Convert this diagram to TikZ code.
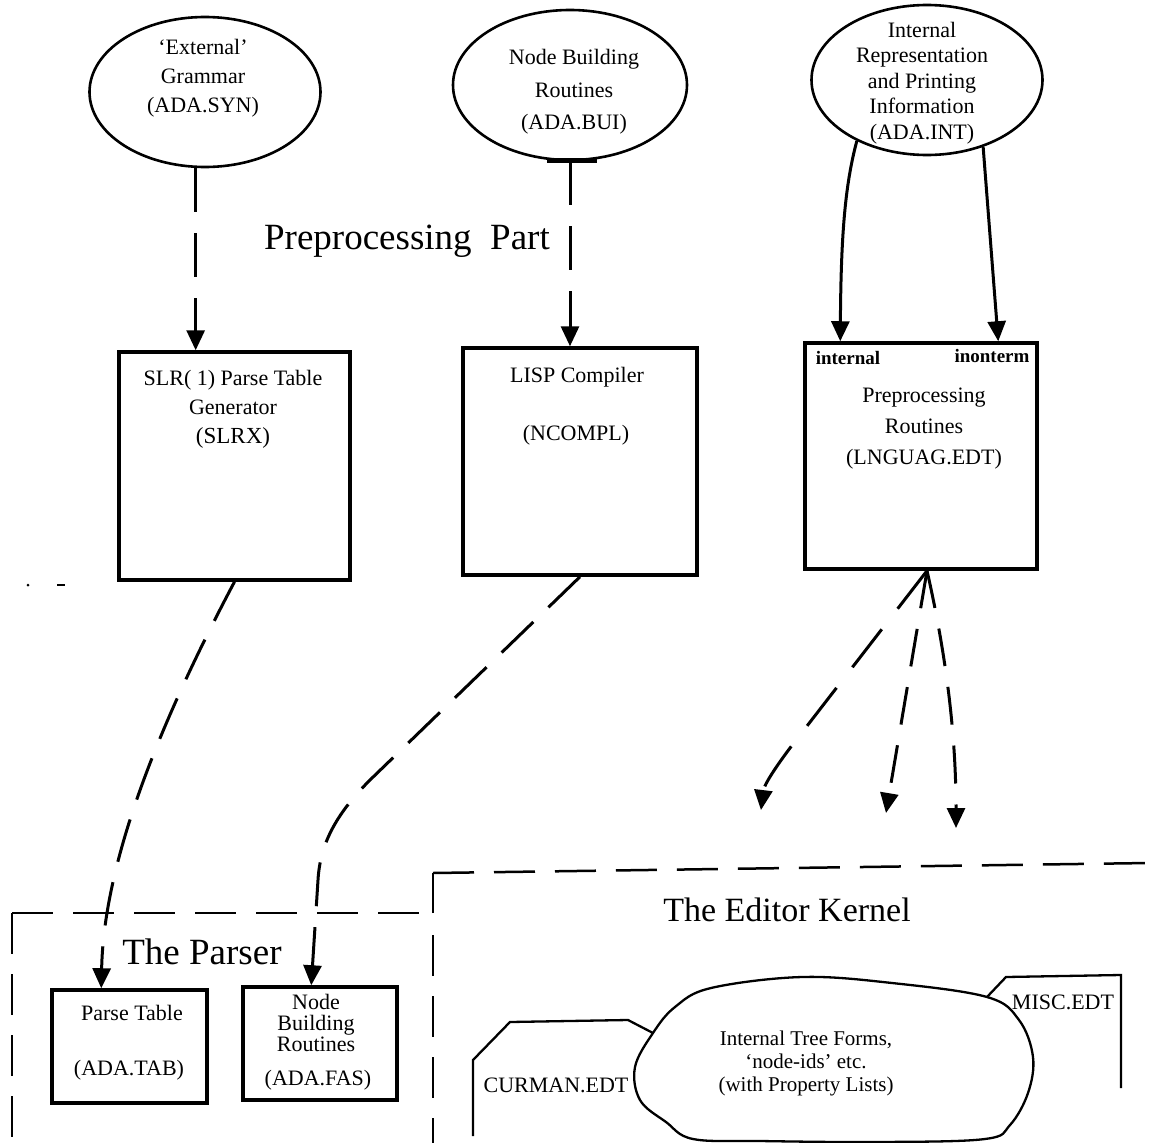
\documentclass[tikz,border=0pt]{standalone}
\usepackage{fontspec}
\setmainfont{Liberation Serif}
\usetikzlibrary{arrows.meta,shapes.geometric,calc}
\begin{document}
\begin{tikzpicture}[x=1pt,y=-1pt,
  ell/.style={draw, ellipse, line width=2.6pt, inner sep=0pt},
  box/.style={draw, rectangle, line width=3.5pt, inner sep=0pt},
  lbl/.style={font=\fontsize{22}{29}\selectfont, align=center, inner sep=0pt},
  big/.style={font=\fontsize{37}{44}\selectfont, inner sep=0pt},
  tag/.style={inner sep=0pt, font=\bfseries\fontsize{19}{19}\selectfont},
  conn/.style={line width=3pt},
  dconn/.style={line width=3pt, dash pattern=on 44pt off 21pt},
  tip/.style={-{Triangle[length=20pt,width=18pt]}},
  region/.style={line width=2.5pt, dash pattern=on 41pt off 20pt},
  outline/.style={line width=2.3pt}
]
\useasboundingbox (0,0) rectangle (1149,1143);
\fill[white] (0,0) rectangle (1149,1143);

% --- ellipses (input files)
\node[ell, minimum width=231, minimum height=150] (e1) at (205,92) {};
\node[lbl] (e1t) at (203,78) {`External'\\Grammar\\(ADA.SYN)};
\node[ell, minimum width=234, minimum height=150] (e2) at (570,85) {};
\node[lbl, font=\fontsize{22}{32.5}\selectfont] (e2t) at (574,92) {Node Building\\Routines\\(ADA.BUI)};
\draw[line width=5pt] (547,160) -- (597,160);
\node[ell, minimum width=231, minimum height=150] (e3) at (927,80) {};
\node[lbl, font=\fontsize{22}{25.5}\selectfont] (e3t) at (922,83) {Internal\\Representation\\and Printing\\Information\\(ADA.INT)};

\node[big] (pp) at (407,241) {Preprocessing\hspace{0.5em}Part};

% --- preprocessing boxes
\node[box, minimum width=231, minimum height=228] (b1) at (234.5,466) {};
\node[lbl] (b1t) at (233,409) {SLR( 1) Parse Table\\Generator\\{\fontsize{23}{29}\selectfont(SLRX)}};
\node[box, minimum width=234, minimum height=227] (b2) at (580,461.5) {};
\node[lbl] (b2a) at (577,377) {LISP Compiler};
\node[lbl] (b2b) at (576,435) {(NCOMPL)};
\node[box, minimum width=232, minimum height=226] (b3) at (921,456) {};
\node[lbl, font=\fontsize{22}{31}\selectfont] (b3t) at (924,429) {Preprocessing\\Routines\\(LNGUAG.EDT)};
\node[tag] (b3i) at (848,358) {internal};
\node[tag] (b3n) at (992,356) {inonterm};

% --- connectors from inputs to boxes
\draw[dconn, tip] (e1.-97) -- (e1.-97 |- b1.north);
\draw[dconn, tip] (e2.south) -- (e2.south |- b2.north);
\draw[conn, tip] (e3.221) .. controls (845,185) and (841,235) .. ($(b3.north west)+(37,0)$);
\draw[conn, tip] (e3.-50) -- ($(b3.north west)+(195,0)$);

% --- three open arrows from the preprocessing routines
\coordinate (b3o) at ($(b3.south)+(6,0)$);
\coordinate (fL) at (761,810);
\coordinate (fM) at (886,813);
\coordinate (fR) at (956,828);
\draw[dconn, dash pattern=on 48pt off 26pt, tip] (b3o) -- (790,748) .. controls (775,768) and (764,785) .. (fL);
\draw[dconn, dash pattern=on 38pt off 21pt, tip] (b3o) -- (fM);
\draw[dconn, dash pattern=on 38pt off 21pt, tip] (b3o) .. controls (945,650) and (956,730) .. (fR);

% --- stray marks
\fill (28,585) circle (1.5pt);
\draw[line width=2pt] (57,585) -- (65,585);

% --- region boundaries
\draw[region] (12,913) -- (433,913);
\draw[region] (12,913) -- (12,1143);
\draw[line width=2.5pt] (433,913) -- (433,873);
\draw[region] (433,873) -- (1149,863);
\draw[region] (433,935) -- (433,1143);

\node[big] (tp) at (202,952) {The Parser};
\node[big, font=\fontsize{34}{40}\selectfont] (ek) at (787,910) {The Editor Kernel};

% --- parser boxes
\node[box, minimum width=155, minimum height=113] (pt) at (129.5,1046.5) {};
\node[lbl] (ptt1) at (132,1013) {Parse Table};
\node[lbl] (ptt2) at (129,1070) {(ADA.TAB)};
\node[box, minimum width=154, minimum height=113] (nb) at (320,1043.5) {};
\node[lbl, font=\fontsize{22}{21}\selectfont] (nbt) at (316,1023) {Node\\Building\\Routines};
\node[lbl] (nbt2) at (318,1080) {(ADA.FAS)};

\draw[dconn, tip] (b1.south) .. controls (172,700) and (104,850) .. ($(pt.north west)+(51,0)$);
\draw[dconn, tip] (b2.south) -- (370,780) .. controls (335,815) and (320,845) .. (318,880) -- ($(nb.north west)+(70,0)$);

% --- editor kernel contents
\draw[outline] (473,1136) -- (473,1060) -- (510,1022) -- (628,1020) -- (653,1033);
\node[lbl] (cur) at (556,1085) {CURMAN.EDT};
\draw[outline] (987,997) -- (1006,977) -- (1121,975) -- (1121,1088);
\node[lbl] (misc) at (1063,1002) {MISC.EDT};
\draw[outline, fill=white] plot[smooth cycle, tension=0.6] coordinates {
  (653,1033) (675,1007) (711,988) (802,977) (892,983) (987,997) (1019,1020)
  (1033,1057) (1028,1093) (1010,1125) (985,1139) (880,1142) (760,1141)
  (693,1139) (666,1122) (640,1100) (635,1067)};
\node[lbl, font=\fontsize{21}{23}\selectfont] (bt) at (806,1063) {Internal Tree Forms,\\`node-ids' etc.\\(with Property Lists)};
\end{tikzpicture}
\end{document}
